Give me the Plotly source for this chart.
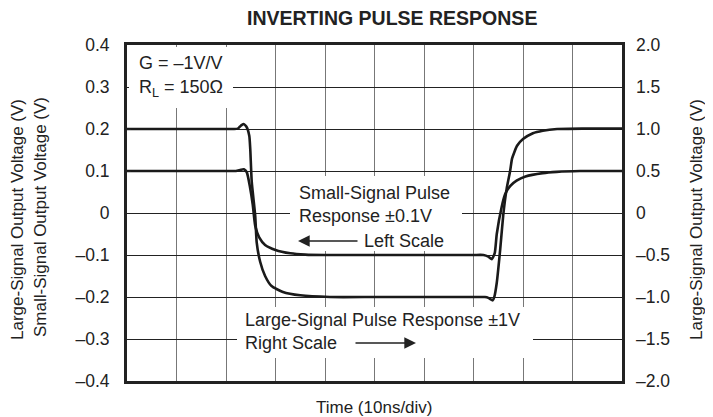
import plotly.graph_objects as go

# ---------------- data ----------------
# Small-signal pulse response, left scale (V); time in ns
small_t = [0, 10, 20, 22.0, 23.0, 23.6, 24.2, 24.8, 25.4, 25.9, 26.7, 27.9, 30.0, 33.0, 36.0, 40.0,
           50, 60, 70, 72.0, 73.0, 73.7, 74.3, 74.7, 75.7, 76.4, 77.4, 78.7, 80.5, 84.0, 86.8, 91.5, 96, 100]
small_v = [0.1, 0.1, 0.1, 0.1, 0.103, 0.104, 0.097, 0.065, 0.02, -0.03, -0.058, -0.076, -0.088, -0.096, -0.099, -0.1,
           -0.1, -0.1, -0.1, -0.1, -0.104, -0.11, -0.095, -0.05, 0.015, 0.045, 0.064, 0.077, 0.087, 0.095, 0.098, 0.1, 0.1, 0.1]

# Large-signal pulse response, right scale (V); time in ns
large_t = [0, 10, 20, 21.6, 22.4, 23.0, 23.5, 24.1, 24.7, 24.9, 25.2, 25.9, 26.2, 26.9, 27.9, 29.2, 31.5, 35.0, 41.0,
           50, 60, 70, 72.3, 73.0, 73.9, 74.2, 74.7, 75.4, 76.0, 76.7, 77.4, 77.8, 78.8, 80.0, 82.0, 84.0, 86.9, 92, 100]
large_v = [1.0, 1.0, 1.0, 1.0, 1.005, 1.04, 1.06, 1.03, 0.92, 0.76, 0.37, -0.03, -0.35, -0.58, -0.75, -0.87, -0.94, -0.98, -1.0,
           -1.0, -1.0, -1.0, -1.0, -1.01, -1.04, -1.0, -0.83, -0.43, -0.03, 0.29, 0.5, 0.65, 0.8, 0.88, 0.95, 0.98, 1.0, 1.005, 1.005]

left_ticks = [0.4, 0.3, 0.2, 0.1, 0, -0.1, -0.2, -0.3, -0.4]
left_labels = ["0.4", "0.3", "0.2", "0.1", "0", "–0.1", "–0.2", "–0.3", "–0.4"]
right_ticks = [2.0, 1.5, 1.0, 0.5, 0, -0.5, -1.0, -1.5, -2.0]
right_labels = ["2.0", "1.5", "1.0", "0.5", "0", "–0.5", "–1.0", "–1.5", "–2.0"]
x_ticks = [0, 10, 20, 30, 40, 50, 60, 70, 80, 90, 100]

# ---------------- layout helpers ----------------
# The page body adds an 8px margin, so the figure is 8px smaller and shifted.
OFF = 8
W, H = 713 - OFF, 417 - OFF
L, R, T, B = 127, 622, 45, 381          # plot area in window pixels
FONT = "Liberation Sans, Arial, Helvetica, sans-serif"
INK = "#222"


def px(x):
    return (x - L) / (R - L)


def py(y):
    return (B - y) / (B - T)


fig = go.Figure()
fig.add_trace(go.Scatter(x=small_t, y=small_v, mode="lines", yaxis="y",
                         line=dict(color="#1a1a1a", width=2.6, shape="spline", smoothing=0.5),
                         showlegend=False, hoverinfo="skip"))
fig.add_trace(go.Scatter(x=large_t, y=large_v, mode="lines", yaxis="y2",
                         line=dict(color="#1a1a1a", width=2.6, shape="spline", smoothing=0.5),
                         showlegend=False, hoverinfo="skip"))

ann = []

# white boxes that interrupt the grid behind the text blocks
for (x0, y0, x1, y1) in [(129.5, 47, 233, 108), (290, 176, 462, 251), (237, 307, 533, 358)]:
    ann.append(dict(x=px((x0 + x1) / 2), y=py((y0 + y1) / 2), xref="paper", yref="paper",
                    text=" ", showarrow=False, width=x1 - x0, height=y1 - y0,
                    xanchor="center", yanchor="middle", bgcolor="white",
                    borderpad=0, borderwidth=0))


def text(x, y, s, size=18, xanchor="left", angle=0):
    ann.append(dict(x=px(x), y=py(y), xref="paper", yref="paper", text=s,
                    showarrow=False, xanchor=xanchor, yanchor="middle", textangle=angle,
                    font=dict(family=FONT, size=size, color=INK)))


def arrow(x0, x1, y):
    ann.append(dict(x=px(x1), y=py(y), xref="paper", yref="paper", ax=x0 - x1, ay=0,
                    axref="pixel", ayref="pixel", text="", showarrow=True,
                    arrowhead=2, arrowsize=1.8, arrowwidth=1.3, arrowcolor=INK))


text(392, 18, "<b>INVERTING PULSE RESPONSE</b>", size=19.5, xanchor="center")
text(137, 63, "G = –1V/V")
text(137, 88, "R<sub>L</sub> = 150Ω")
text(297, 193, "Small-Signal Pulse")
text(297, 216, "Response ±0.1V")
text(446, 241, "Left Scale", xanchor="right")
arrow(359, 298, 241)
text(243, 320, "Large-Signal Pulse Response ±1V")
text(243, 343, "Right Scale")
arrow(354, 416, 343)
text(374, 407, "Time (10ns/div)", size=17, xanchor="center")
text(18, 220, "Large-Signal Output Voltage (V)", size=17, xanchor="center", angle=-90)
text(40, 217, "Small-Signal Output Voltage (V)", size=17, xanchor="center", angle=-90)
text(697, 220, "Large-Signal Output Voltage (V)", size=17, xanchor="center", angle=-90)

fig.update_layout(
    width=W, height=H,
    margin=dict(l=L - OFF, r=713 - R, t=T - OFF, b=417 - B, pad=0),
    paper_bgcolor="white", plot_bgcolor="white",
    font=dict(family=FONT, size=18, color=INK),
    annotations=ann,
    xaxis=dict(range=[0, 100], tickvals=x_ticks, showticklabels=False, ticks="",
               showgrid=True, gridcolor="#777", gridwidth=1.2, zeroline=False,
               showline=True, linecolor=INK, linewidth=3, mirror=True),
    yaxis=dict(range=[-0.4, 0.4], tickvals=left_ticks, ticktext=left_labels,
               ticks="inside", ticklen=4, tickcolor=INK, ticklabelstandoff=11,
               tickfont=dict(family=FONT, size=17.5, color=INK),
               showgrid=True, gridcolor=INK, gridwidth=1, zeroline=False,
               showline=True, linecolor=INK, linewidth=3, mirror=True),
    yaxis2=dict(range=[-2, 2], tickvals=right_ticks, ticktext=right_labels, overlaying="y",
                side="right", ticks="", ticklabelstandoff=13,
                tickfont=dict(family=FONT, size=17.5, color=INK),
                showgrid=False, zeroline=False, showline=False),
)

fig.write_html("out.html")
